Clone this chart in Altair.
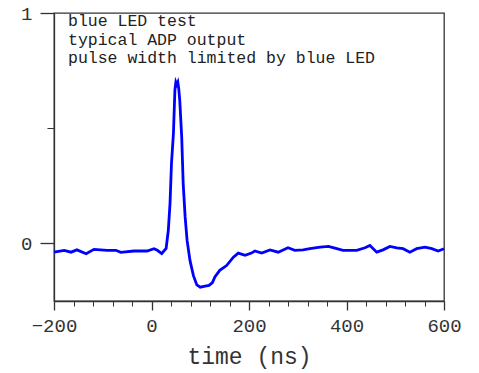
import altair as alt
import pandas as pd

# time (ns)
t = [-200, -179, -165, -153, -134, -118, -91, -73, -63, -36, -9, 5, 12, 21, 30,
     34.5, 38, 41, 45, 48, 50, 52, 54, 56, 58, 62, 65, 69, 73, 79, 86, 93, 100,
     110, 118, 125, 130, 140, 154, 168, 178, 192, 205, 212, 226, 243, 260, 280,
     294, 311, 325, 346, 363, 380, 393, 421, 438, 448, 462, 475, 489, 503, 516,
     530, 544, 561, 575, 588, 600]
# ADP output (normalised)
v = [-0.038, -0.030, -0.038, -0.028, -0.045, -0.026, -0.030, -0.030, -0.039,
     -0.033, -0.033, -0.023, -0.030, -0.044, -0.022,
     0.057, 0.174, 0.348, 0.478, 0.665, 0.700, 0.690, 0.700, 0.670, 0.620,
     0.460, 0.260, 0.115, 0.013, -0.075, -0.140, -0.180, -0.190,
     -0.185, -0.182, -0.170, -0.146, -0.117, -0.096, -0.060, -0.042, -0.052,
     -0.042, -0.033, -0.042, -0.028, -0.038, -0.019,
     -0.030, -0.028, -0.023, -0.016, -0.013, -0.023, -0.030, -0.030, -0.019,
     -0.009, -0.038, -0.028, -0.013, -0.019, -0.023,
     -0.038, -0.023, -0.016, -0.023, -0.033, -0.023]

x_major = [-200, 0, 200, 400, 600]
x_minor = [-160, -120, -80, -40, 40, 80, 120, 160, 240, 280, 320, 360,
           440, 480, 520, 560]
y_major = [0, 1]
y_minor = [0.5]
note_lines = ["blue LED test", "typical ADP output", "pulse width limited by blue LED"]

df = pd.DataFrame({"t": t, "v": v})

FONT = "Liberation Mono"
INK = "#333333"
xscale = alt.Scale(domain=[-200, 600], nice=False, zero=False)
yscale = alt.Scale(domain=[-0.25, 1], nice=False, zero=False)

base = alt.Chart(df)

minor = base.mark_line(opacity=0).encode(
    x=alt.X("t:Q", scale=xscale,
            axis=alt.Axis(orient="bottom", values=x_minor, labels=False, title=None,
                          tickSize=5, tickColor=INK, domain=False, grid=False,
                          tickWidth=1)),
    y=alt.Y("v:Q", scale=yscale,
            axis=alt.Axis(orient="left", values=y_minor, labels=False, title=None,
                          tickSize=7, tickColor=INK, domain=False, grid=False,
                          tickWidth=1)),
)

main = base.mark_line(color="#0000ff", strokeWidth=2.8).encode(
    x=alt.X("t:Q", scale=xscale,
            axis=alt.Axis(orient="bottom", values=x_major, title="time (ns)",
                          tickSize=9, tickColor=INK, domainColor=INK, domainWidth=1.3,
                          tickWidth=1.3, grid=False, labelFont=FONT, labelFontSize=19,
                          labelColor=INK, labelPadding=6, titleFont=FONT,
                          titleFontSize=23, titleFontWeight="normal", titleColor=INK,
                          titlePadding=10, labelFlush=False, format="d")),
    y=alt.Y("v:Q", scale=yscale,
            axis=alt.Axis(orient="left", values=y_major, title=None, format="d",
                          tickSize=14, tickColor=INK, domainColor=INK, domainWidth=1.3,
                          tickWidth=1.3, grid=False, labelFont=FONT, labelFontSize=19,
                          labelColor=INK, labelPadding=8, labelFlush=False)),
)

note = alt.Chart(pd.DataFrame({"a": [0]})).mark_text(
    align="left", baseline="top", font=FONT, fontSize=16.5, lineHeight=18.5,
    color="#222222",
).encode(
    x=alt.value(14), y=alt.value(0), text=alt.value(note_lines)
)

chart = alt.layer(minor, main, note).resolve_axis(
    x="independent", y="independent"
).properties(
    width=390, height=288,
    autosize=alt.AutoSizeParams(type="none"),
    padding={"left": 54, "top": 13, "right": 35, "bottom": 72},
    background="white",
).configure_view(stroke=INK, strokeWidth=1.3)

chart.save("out.html", embed_options={"renderer": "svg", "actions": False})
